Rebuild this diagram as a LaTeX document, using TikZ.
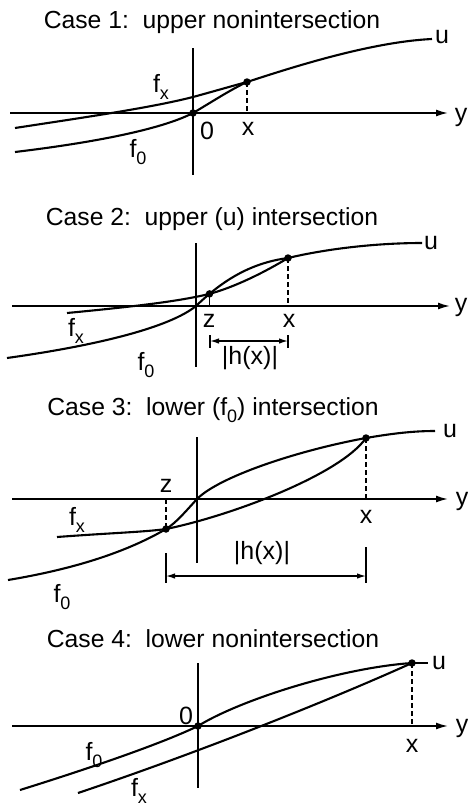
\documentclass[tikz,border=0pt]{standalone}
\usepackage{fontspec}
\setmainfont{Liberation Sans}
\usetikzlibrary{arrows.meta}
\newcommand{\sbs}[1]{\raisebox{-7pt}{\fontsize{18}{18}\selectfont #1}}
\begin{document}
\begin{tikzpicture}[x=1pt,y=-1pt,
  curve/.style={line width=2.1pt,line join=round},
  axisline/.style={line width=1.7pt},
  yarrow/.style={axisline,-{Latex[length=12pt,width=7pt]}},
  dimline/.style={line width=1.3pt,{Latex[length=9pt,width=5.5pt]}-{Latex[length=9pt,width=5.5pt]}},
  guide/.style={line width=1.3pt,dash pattern=on 5pt off 3pt},
  tickline/.style={line width=1.4pt},
  dot/.style={circle,fill=black,inner sep=0pt,minimum size=7.5pt},
  lbl/.style={inner sep=0pt,font=\fontsize{25}{29}\selectfont},
  ttl/.style={inner sep=0pt,anchor=base,font=\fontsize{24.7}{29}\selectfont}]
\useasboundingbox (0,0) rectangle (468,809);

% ---------------- Case 1 ----------------
\node[ttl] (t1) at (212,28) {Case 1:\ \ upper nonintersection};
\coordinate (L1) at (10,113);
\coordinate (R1) at (448,113);
\coordinate (VT1) at (193,48);
\coordinate (VB1) at (193,175);
\coordinate (O1) at (193,113);
\coordinate (X1) at (247,82);
\coordinate (XA1) at (247,113);
\coordinate (U1) at (432,39);
\draw[yarrow] (L1) -- (R1);
\draw[axisline] (VT1) -- (VB1);
\draw[guide] (X1) -- (XA1);
% fx continuing into u
\draw[curve] (15,128) .. controls (80,118) and (150,108) .. (193,97)
  .. controls (215,91) and (232,86) .. (X1)
  .. controls (290,68) and (370,42) .. (U1);
% f0
\draw[curve] (15,152) .. controls (90,143) and (160,130) .. (O1)
  .. controls (215,100) and (230,90) .. (X1);
\node[dot] (d1a) at (O1) {};
\node[dot] (d1b) at (X1) {};
\node[lbl] (fx1) at (161,87) {f\sbs{x}};
\node[lbl] (z01) at (207,131) {0};
\node[lbl] (x1) at (248,129) {x};
\node[lbl] (f01) at (138,152) {f\sbs{0}};
\node[lbl] (u1) at (442,37) {u};
\node[lbl] (y1) at (461,117) {y};

% ---------------- Case 2 ----------------
\node[ttl] (t2) at (212,225) {Case 2:\ \ upper (u) intersection};
\coordinate (L2) at (12,306);
\coordinate (R2) at (450,306);
\coordinate (VT2) at (196,243);
\coordinate (VB2) at (196,367);
\coordinate (O2) at (196,306);
\coordinate (X2) at (288,258);
\coordinate (XA2) at (288,306);
\coordinate (U2) at (422,243);
\draw[yarrow] (L2) -- (R2);
\draw[axisline] (VT2) -- (VB2);
\draw[guide] (X2) -- (XA2);
% f0
\draw[curve] (7,358) .. controls (100,345) and (170,327) .. (O2)
  .. controls (222,281) and (250,263) .. (X2) coordinate[pos=0.17] (Z2);
\coordinate (ZA2) at (Z2 |- O2);
% fx
\draw[curve] (67,313) .. controls (140,306) and (180,301) .. (Z2)
  .. controls (235,287) and (265,272) .. (X2);
% u
\draw[curve] (X2) .. controls (330,248) and (380,243) .. (U2);
\draw[tickline] (Z2) -- (ZA2);
\node[dot] (d2a) at (Z2) {};
\node[dot] (d2b) at (X2) {};
\coordinate (TZa) at (210,335); \coordinate (TZb) at (210,348);
\coordinate (TXa) at (288,335); \coordinate (TXb) at (288,348);
\draw[tickline] (TZa) -- (TZb);
\draw[tickline] (TXa) -- (TXb);
\coordinate (DA2) at (210,341); \coordinate (DB2) at (288,341);
\draw[dimline] (DA2) -- (DB2);
\node[lbl] (fx2) at (76,331) {f\sbs{x}};
\node[lbl] (f02) at (146,365) {f\sbs{0}};
\node[lbl] (z2) at (209,321) {z};
\node[lbl] (x2) at (289,321) {x};
\node[lbl] (h2) at (250,358) {|h(x)|};
\node[lbl] (u2) at (431,243) {u};
\node[lbl] (y2) at (461,307) {y};

% ---------------- Case 3 ----------------
\node[ttl] (t3) at (213,415) {Case 3:\ \ lower (f\sbs{0}) intersection};
\coordinate (L3) at (12,499);
\coordinate (R3) at (448,499);
\coordinate (VT3) at (197,437);
\coordinate (VB3) at (197,563);
\coordinate (O3) at (197,499);
\coordinate (Z3) at (166,529);
\coordinate (ZA3) at (166,499);
\coordinate (X3) at (366,438);
\coordinate (XA3) at (366,499);
\coordinate (U3) at (435,431);
\draw[yarrow] (L3) -- (R3);
\draw[axisline] (VT3) -- (VB3);
\draw[guide] (ZA3) -- (Z3);
\draw[guide] (X3) -- (XA3);
% f0
\draw[curve] (8,580) .. controls (80,568) and (130,550) .. (Z3)
  .. controls (176,523) and (186,511) .. (O3)
  .. controls (220,476) and (300,450) .. (X3);
% fx
\draw[curve] (57,537) .. controls (110,533) and (145,532) .. (Z3)
  .. controls (230,516) and (340,475) .. (X3);
% u
\draw[curve] (X3) .. controls (395,433) and (415,431) .. (U3);
\node[dot] (d3a) at (Z3) {};
\node[dot] (d3b) at (X3) {};
\coordinate (TZa3) at (166,553); \coordinate (TZb3) at (166,583);
\coordinate (TXa3) at (366,547); \coordinate (TXb3) at (366,583);
\draw[tickline] (TZa3) -- (TZb3);
\draw[tickline] (TXa3) -- (TXb3);
\coordinate (DA3) at (166,576); \coordinate (DB3) at (366,576);
\draw[dimline] (DA3) -- (DB3);
\node[lbl] (z3) at (166,486) {z};
\node[lbl] (x3) at (366,517) {x};
\node[lbl] (fx3) at (77,520) {f\sbs{x}};
\node[lbl] (h3) at (262,553) {|h(x)|};
\node[lbl] (f03) at (62,597) {f\sbs{0}};
\node[lbl] (u3) at (450,431) {u};
\node[lbl] (y3) at (462,501) {y};

% ---------------- Case 4 ----------------
\node[ttl] (t4) at (213,647) {Case 4:\ \ lower nonintersection};
\coordinate (L4) at (12,726);
\coordinate (R4) at (448,726);
\coordinate (VT4) at (198,663);
\coordinate (VB4) at (198,788);
\coordinate (O4) at (198,726);
\coordinate (X4) at (412,663);
\coordinate (XA4) at (412,726);
\coordinate (U4) at (428,663);
\draw[yarrow] (L4) -- (R4);
\draw[axisline] (VT4) -- (VB4);
\draw[guide] (X4) -- (XA4);
% f0
\draw[curve] (20,790) .. controls (100,765) and (165,742) .. (O4)
  .. controls (240,700) and (340,668) .. (X4);
% fx
\draw[curve] (78,793) .. controls (200,752) and (330,700) .. (X4);
% u
\draw[curve] (X4) -- (U4);
\node[dot] (d4a) at (O4) {};
\node[dot] (d4b) at (X4) {};
\node[lbl] (z04) at (186,716) {0};
\node[lbl] (x4) at (412,746) {x};
\node[lbl] (f04) at (94,755) {f\sbs{0}};
\node[lbl] (fx4) at (139,791) {f\sbs{x}};
\node[lbl] (u4) at (439,663) {u};
\node[lbl] (y4) at (462,728) {y};
\end{tikzpicture}
\end{document}
